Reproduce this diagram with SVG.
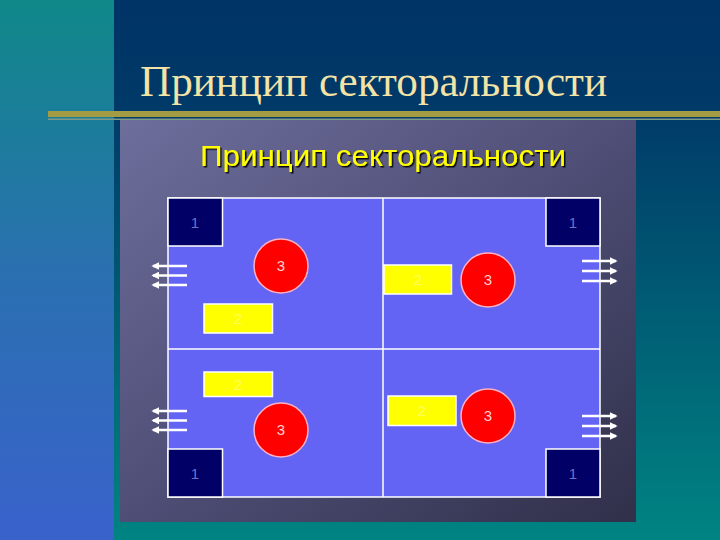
<svg xmlns="http://www.w3.org/2000/svg" width="720" height="540" viewBox="0 0 720 540">
<defs>
<linearGradient id="bgR" x1="0" y1="0" x2="0" y2="1">
<stop offset="0" stop-color="#003366"/>
<stop offset="0.2" stop-color="#003a68"/>
<stop offset="1" stop-color="#008482"/>
</linearGradient>
<linearGradient id="bgL" x1="0" y1="0" x2="0" y2="1">
<stop offset="0" stop-color="#0f8888"/>
<stop offset="0.5" stop-color="#2a70b0"/>
<stop offset="1" stop-color="#3a62cc"/>
</linearGradient>
<linearGradient id="panel" x1="0" y1="0" x2="1" y2="1">
<stop offset="0" stop-color="#6e6e9c"/>
<stop offset="0.5" stop-color="#4e4e76"/>
<stop offset="1" stop-color="#30304a"/>
</linearGradient>
<marker id="ah" viewBox="0 0 10 10" refX="8" refY="5" markerWidth="3.2" markerHeight="3.2" orient="auto" markerUnits="strokeWidth">
<path d="M0,0 L10,5 L0,10 z" fill="#ffffff"/>
</marker>
<filter id="sh" x="-5%" y="-20%" width="110%" height="140%">
<feDropShadow dx="1.5" dy="1.5" stdDeviation="0.6" flood-color="#000000" flood-opacity="0.9"/>
</filter>
</defs>
<style>
.sec{fill:#6464f4;stroke:#ffffff;stroke-width:1.5}
.dv{stroke:#ffffff;stroke-width:1.5}
.b1{fill:#000066;stroke:#ffffff;stroke-width:1.5}
.c3{fill:#ff0000;stroke:#ffb0c0;stroke-width:1.5}
.y2{fill:#ffff00;stroke:#ffffff;stroke-width:1.5}
.t1{font-family:"Liberation Sans",Arial,sans-serif;font-size:15px;fill:#7070c8;text-anchor:middle}
.t3{font-family:"Liberation Sans",Arial,sans-serif;font-size:15px;fill:#ffd0d0;text-anchor:middle}
.t2{font-family:"Liberation Sans",Arial,sans-serif;font-size:15px;fill:#fffff0;fill-opacity:0.4;text-anchor:middle}
.ar{stroke:#ffffff;stroke-width:2.5;fill:none;marker-end:url(#ah)}
</style>
<rect x="0" y="0" width="720" height="540" fill="url(#bgR)"/>
<rect x="0" y="0" width="114" height="540" fill="url(#bgL)"/>
<rect x="48" y="111" width="672" height="6" fill="#a39c44"/>
<rect x="48" y="118.5" width="672" height="1.5" fill="#7f9a86"/>
<text x="140" y="96" font-family="'Liberation Serif','Times New Roman',serif" font-size="44" fill="#f3e3a6" textLength="467" lengthAdjust="spacingAndGlyphs">Принцип секторальности</text>
<rect x="120" y="120" width="516" height="402" fill="url(#panel)"/>
<text x="200" y="166" font-family="'Liberation Sans',Arial,sans-serif" font-size="30" fill="#ffff00" filter="url(#sh)" textLength="366" lengthAdjust="spacingAndGlyphs">Принцип секторальности</text>
<g id="grid">
<rect class="sec" x="168" y="198" width="432" height="299"/>
<line class="dv" x1="383" y1="198" x2="383" y2="497"/>
<line class="dv" x1="168" y1="349" x2="600" y2="349"/>
</g>
<g id="box1-tl"><rect class="b1" x="168" y="198" width="54.5" height="48"/><text class="t1" x="195" y="228">1</text></g>
<g id="box1-tr"><rect class="b1" x="546" y="198" width="54" height="48"/><text class="t1" x="573" y="228">1</text></g>
<g id="box1-bl"><rect class="b1" x="168" y="449" width="54.5" height="48"/><text class="t1" x="195" y="479">1</text></g>
<g id="box1-br"><rect class="b1" x="546" y="449" width="54" height="48"/><text class="t1" x="573" y="479">1</text></g>
<g id="circle-tl"><circle class="c3" cx="281" cy="266" r="27"/><text class="t3" x="281" y="271">3</text></g>
<g id="circle-tr"><circle class="c3" cx="488" cy="280" r="27"/><text class="t3" x="488" y="285">3</text></g>
<g id="circle-bl"><circle class="c3" cx="281" cy="430" r="27"/><text class="t3" x="281" y="435">3</text></g>
<g id="circle-br"><circle class="c3" cx="488" cy="416" r="27"/><text class="t3" x="488" y="421">3</text></g>
<g id="yellow-tl"><rect class="y2" x="204" y="304" width="68.5" height="29"/><text class="t2" x="238" y="324">2</text></g>
<g id="yellow-tr"><rect class="y2" x="384" y="265" width="67.5" height="29"/><text class="t2" x="418" y="285">2</text></g>
<g id="yellow-bl"><rect class="y2" x="204" y="372" width="68.5" height="24.5"/><text class="t2" x="238" y="390">2</text></g>
<g id="yellow-br"><rect class="y2" x="388" y="396" width="68" height="29.5"/><text class="t2" x="422" y="416">2</text></g>
<g id="connectors">
<line class="ar" x1="187" y1="266" x2="153" y2="266"/>
<line class="ar" x1="187" y1="275.5" x2="153" y2="275.5"/>
<line class="ar" x1="187" y1="285" x2="153" y2="285"/>
<line class="ar" x1="187" y1="411" x2="153" y2="411"/>
<line class="ar" x1="187" y1="420.5" x2="153" y2="420.5"/>
<line class="ar" x1="187" y1="430" x2="153" y2="430"/>
<line class="ar" x1="582" y1="261" x2="616" y2="261"/>
<line class="ar" x1="582" y1="271" x2="616" y2="271"/>
<line class="ar" x1="582" y1="281" x2="616" y2="281"/>
<line class="ar" x1="582" y1="416" x2="616" y2="416"/>
<line class="ar" x1="582" y1="426" x2="616" y2="426"/>
<line class="ar" x1="582" y1="436" x2="616" y2="436"/>
</g>
</svg>
